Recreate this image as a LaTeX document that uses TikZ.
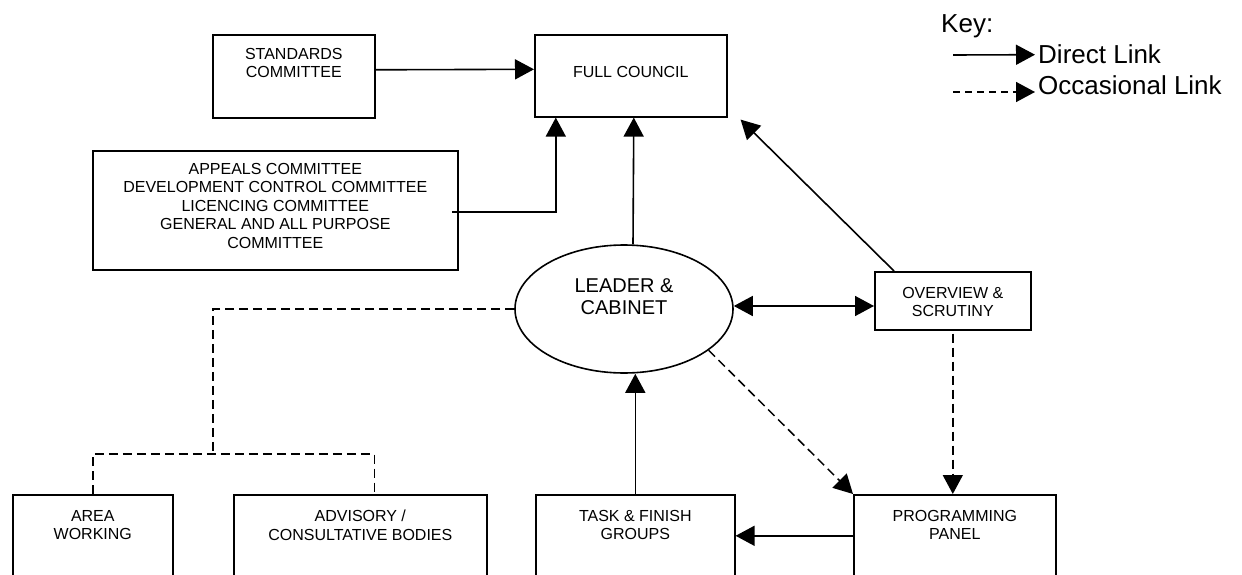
\documentclass[tikz,border=0pt]{standalone}
\usepackage{fontspec}
\setmainfont{Liberation Sans}
\usetikzlibrary{arrows.meta,shapes.geometric}
\begin{document}
\begin{tikzpicture}[
  x=1pt, y=-1pt,
  box/.style={
    draw,
    line width=1.6pt,
    anchor=north west,
    inner sep=0pt
  },
  boxtxt/.style={
    anchor=north,
    inner sep=0pt,
    align=center,
    font=\fontsize{16}{18.5}\selectfont
  },
  keytxt/.style={
    anchor=base west,
    inner sep=0pt,
    font=\fontsize{26}{30}\selectfont
  },
  link/.style={line width=1.6pt, -{Triangle[length=19pt,width=20pt]}},
  both/.style={line width=1.6pt, {Triangle[length=19pt,width=20pt]}-{Triangle[length=19pt,width=20pt]}},
  occ/.style={line width=1.5pt, dash pattern=on 9pt off 5pt}
]
  \useasboundingbox (0,0) rectangle (1242,575);

  \node[box, minimum width=162, minimum height=83,
    label={[boxtxt, yshift=-14pt]north:{STANDARDS\\COMMITTEE}}] (std) at (212,34) {};
  \node[box, minimum width=192, minimum height=82,
    label={[boxtxt, yshift=-32pt]north:{FULL COUNCIL}}] (cnl) at (534,34) {};
  \node[box, minimum width=365, minimum height=119,
    label={[boxtxt, yshift=-13pt]north:{APPEALS COMMITTEE\\DEVELOPMENT CONTROL COMMITTEE\\LICENCING COMMITTEE\\GENERAL AND ALL PURPOSE\\COMMITTEE}}] (app) at (92,150) {};
  \node[draw, ellipse, line width=1.6pt, minimum width=218, minimum height=128, inner sep=0pt,
    label={[font=\fontsize{20}{22}\selectfont, align=center, yshift=12pt]center:{LEADER \&\\CABINET}}] (cab) at (624,309) {};
  \node[box, minimum width=156, minimum height=58,
    label={[boxtxt, yshift=-16pt]north:{OVERVIEW \&\\SCRUTINY}}] (ovr) at (874,271) {};
  \node[box, minimum width=160, minimum height=82,
    label={[boxtxt, yshift=-16pt]north:{AREA\\WORKING}}] (area) at (12,494) {};
  \node[box, minimum width=253, minimum height=82,
    label={[boxtxt, yshift=-16pt]north:{ADVISORY /\\CONSULTATIVE BODIES}}] (adv) at (233,494) {};
  \node[box, minimum width=199, minimum height=82,
    label={[boxtxt, yshift=-16pt]north:{TASK \& FINISH\\GROUPS}}] (tsk) at (535,494) {};
  \node[box, minimum width=202, minimum height=82,
    label={[boxtxt, yshift=-16pt]north:{PROGRAMMING\\PANEL}}] (prg) at (853,494) {};

  \node[keytxt] (key) at (941,33) {Key:};
  \node[keytxt] (dl) at (1038,64) {Direct Link};
  \node[keytxt] (ol) at (1038,95) {Occasional Link};
  \coordinate (k1) at (953,55);
  \coordinate (k2) at (953,92);
  \coordinate (appout) at (452,212);
  \coordinate (br) at (213,454);

  \draw[link] ([yshift=6.5pt]std.east) -- ([yshift=6.5pt]cnl.west);
  \draw[link] (appout) -| ([xshift=-75pt]cnl.south);
  \draw[link] ([xshift=9pt]cab.north) -- ([xshift=3pt]cnl.south);
  \draw[link] ([xshift=20pt]ovr.north west) -- ([xshift=13pt,yshift=-2pt]cnl.south east);
  \draw[both] ([yshift=3pt]cab.east) -- ([yshift=3pt]cab.east -| ovr.west);
  \draw[occ, -{Triangle[length=19pt,width=20pt]}] ([yshift=-3pt]ovr.south) -- (ovr.south |- prg.north);
  \draw[occ, -{Triangle[length=19pt,width=20pt]}] (cab.-26) -- (prg.north west);
  \draw[link] (prg.west) -- (tsk.east);
  \draw[link] (tsk.north) -- (cab.south -| tsk.north);
  \draw[occ] (cab.west) -| (br);
  \draw[occ] (area.north) |- (br) -| ([xshift=14pt]adv.north);

  \draw[link] (k1) -- ([xshift=-3pt]dl.west);
  \draw[occ, dash pattern=on 7pt off 5pt, -{Triangle[length=19pt,width=20pt]}] (k2) -- ([xshift=-3pt]k2 -| ol.west);
\end{tikzpicture}
\end{document}
